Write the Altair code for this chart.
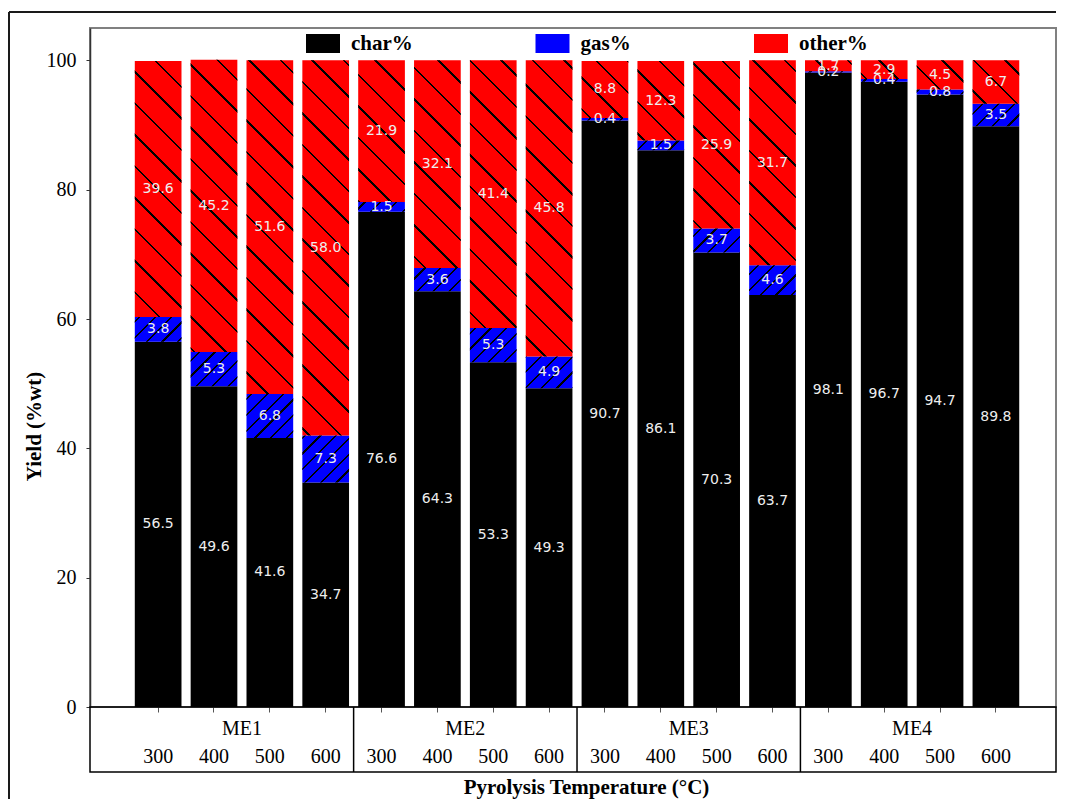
import math
import altair as alt
import pandas as pd

# ---------------- data ----------------
groups = ["ME1", "ME2", "ME3", "ME4"]
temps = ["300", "400", "500", "600"]
char_pct = [56.5, 49.6, 41.6, 34.7, 76.6, 64.3, 53.3, 49.3,
            90.7, 86.1, 70.3, 63.7, 98.1, 96.7, 94.7, 89.8]
gas_pct = [3.8, 5.3, 6.8, 7.3, 1.5, 3.6, 5.3, 4.9,
           0.4, 1.5, 3.7, 4.6, 0.2, 0.4, 0.8, 3.5]
other_pct = [39.6, 45.2, 51.6, 58.0, 21.9, 32.1, 41.4, 45.8,
             8.8, 12.3, 25.9, 31.7, 1.7, 2.9, 4.5, 6.7]
series = ["char%", "gas%", "other%"]
colors = ["#000000", "#0000ff", "#ff0000"]
y_ticks = [0, 20, 40, 60, 80, 100]

# ---------------- layout ----------------
W, H = 966, 679          # plot area (kept inside the page)
YMAX = 105
N = len(groups) * len(temps)
STEP = 55.85             # band step in px
PAD_IN = 0.164
LEFT0 = 44.8             # px from plot left to first bar
PAD_OUT = (W / STEP - N + PAD_IN) / 2
ALIGN = LEFT0 / (W - STEP * (N - PAD_IN))
BW = STEP * (1 - PAD_IN)
KY = H / YMAX
OX, OY = 90, 28            # page position of the plot origin (hatch phase)
TABLE_H = 65
SERIF = "Liberation Serif"

cats = [f"{g} {t}" for g in groups for t in temps]


def hatch(x0, y0, w, h, spacing, direction, lw=1.5):
    """Linear gradient with hard stops that draws diagonal hatch lines."""
    clear, ink = "rgba(0,0,0,0)", "#000000"
    L = w + h
    kk = L / (w * w + h * h)
    if direction == "back":      # "\" lines
        grad = {"gradient": "linear", "x1": 0, "y1": 1, "x2": kk * w, "y2": 1 - kk * h}
        base = x0 - y0
        dmin, dmax = -h, w
        to_t = lambda d: (d + h) / L
    else:                        # "/" lines
        grad = {"gradient": "linear", "x1": 0, "y1": 0, "x2": kk * w, "y2": kk * h}
        base = x0 + y0
        dmin, dmax = 0, w + h
        to_t = lambda d: d / L
    half = lw * math.sqrt(2) / 2
    stops = [{"offset": 0, "color": clear}]
    m = math.floor((dmin + base - half) / spacing)
    while True:
        dc = m * spacing - base
        if dc - half > dmax:
            break
        if dc + half >= dmin:
            a = min(1, max(0, to_t(dc - half)))
            b = min(1, max(0, to_t(dc + half)))
            stops += [{"offset": a, "color": clear}, {"offset": a, "color": ink},
                      {"offset": b, "color": ink}, {"offset": b, "color": clear}]
        m += 1
    stops.append({"offset": 1, "color": clear})
    grad["stops"] = stops
    return grad


rows, hatch_rows = [], []
for i, cat in enumerate(cats):
    vals = [char_pct[i], gas_pct[i], other_pct[i]]
    base = 0.0
    for s, v in zip(series, vals):
        y0, y1 = base, base + v
        rows.append({"cat": cat, "series": s, "val": v, "y0": y0, "y1": y1,
                     "mid": (y0 + y1) / 2})
        if s != "char%":
            px0 = OX + LEFT0 + i * STEP
            py0 = OY + (YMAX - y1) * KY
            ph = max(v * KY, 0.5)
            if s == "other%":
                g = hatch(px0, py0, BW, ph, 31.5, "back")
            else:
                g = hatch(px0, py0, BW, ph, 15.75, "fwd")
            hatch_rows.append({"cat": cat, "y0": y0, "y1": y1, "grad": g})
        base = y1

df = pd.DataFrame(rows)
grp_df = pd.DataFrame({"cat": [f"{g} {temps[1]}" for g in groups], "grp": groups})
sep_df = pd.DataFrame({"cat": [f"{g} {temps[-1]}" for g in groups[:-1]]})
one = pd.DataFrame({"k": [0]})

x_enc = alt.X(
    "cat:N", sort=cats,
    scale=alt.Scale(domain=cats, paddingInner=PAD_IN, paddingOuter=PAD_OUT, align=ALIGN),
    axis=alt.Axis(
        title="Pyrolysis Temperature (°C)",
        titleFont=SERIF, titleFontSize=21, titleFontWeight="bold", titleColor="black",
        titleX=496, titleY=80, titleAlign="center", titleBaseline="middle",
        labelExpr="split(datum.value, ' ')[1]", labelAngle=0,
        labelFont=SERIF, labelFontSize=20, labelColor="black",
        labelBaseline="middle", labelPadding=44,
        tickSize=5, tickColor="#555555", tickWidth=1,
        domain=False,
    ),
)
y_scale = alt.Scale(domain=[0, YMAX], nice=False, zero=True)
y_enc = alt.Y(
    "y0:Q", scale=y_scale,
    axis=alt.Axis(
        values=y_ticks, grid=False, title="Yield (%wt)",
        titleFont=SERIF, titleFontSize=21, titleFontWeight="bold", titleColor="black",
        titleAngle=270, titleX=-56, titleY=398, titleAlign="center", titleBaseline="middle",
        labelFont=SERIF, labelFontSize=20, labelColor="black", labelPadding=10,
        tickSize=4, tickColor="#333333", domainColor="#333333", domainWidth=1.5,
    ),
)

bars = alt.Chart(df).mark_bar(strokeWidth=0).encode(
    x=x_enc, y=y_enc, y2="y1:Q",
    color=alt.Color(
        "series:N",
        scale=alt.Scale(domain=series, range=colors),
        legend=alt.Legend(
            orient="none", legendX=216, legendY=-1.5, direction="horizontal",
            columns=3, title=None, padding=0,
            symbolType="M-1,-0.56H1V0.56H-1Z", symbolSize=1156,
            symbolStrokeWidth=0, symbolOpacity=1,
            labelFont=SERIF, labelFontSize=21, labelFontWeight="bold",
            labelColor="black", labelOffset=11, columnPadding=122.5,
        ),
    ),
)

hatches = alt.Chart(alt.Data(values=hatch_rows)).mark_bar(strokeWidth=0).encode(
    x=alt.X("cat:N", sort=cats),
    y=alt.Y("y0:Q"), y2="y1:Q",
    fill=alt.Fill("grad:N", scale=None),
)

labels = alt.Chart(df).mark_text(
    font="DejaVu Sans", fontSize=14, color="#eeeeee", baseline="middle"
).encode(
    x=alt.X("cat:N", sort=cats), y=alt.Y("mid:Q"),
    text=alt.Text("val:Q", format=".1f"),
)

grp_labels = alt.Chart(grp_df).mark_text(
    font=SERIF, fontSize=20, color="black", baseline="middle", dx=STEP / 2
).encode(
    x=alt.X("cat:N", sort=cats), y=alt.value(H + 22), text="grp:N",
)

seps = alt.Chart(sep_df).mark_rule(color="black", strokeWidth=1.5, xOffset=STEP / 2).encode(
    x=alt.X("cat:N", sort=cats), y=alt.value(H), y2=alt.value(H + TABLE_H),
)

table_box = alt.Chart(one).mark_rect(fillOpacity=0, stroke="black", strokeWidth=1.5).encode(
    x=alt.value(0), x2=alt.value(W), y=alt.value(H), y2=alt.value(H + TABLE_H),
)

frame_top = alt.Chart(one).mark_rule(color="#1a1a1a", strokeWidth=2).encode(
    x=alt.value(-81), x2=alt.value(W), y=alt.value(-16),
)
frame_left = alt.Chart(one).mark_rule(color="#1a1a1a", strokeWidth=2).encode(
    x=alt.value(-81), y=alt.value(-16), y2=alt.value(771),
)

chart = alt.layer(
    bars, hatches, labels, grp_labels, seps, table_box, frame_top, frame_left
).properties(
    width=W, height=H,
    padding={"left": 0, "top": 3, "right": 0, "bottom": 0},
).configure_view(stroke="#808080", strokeWidth=2)

chart.save("out.html", embed_options={"renderer": "svg", "actions": False})
